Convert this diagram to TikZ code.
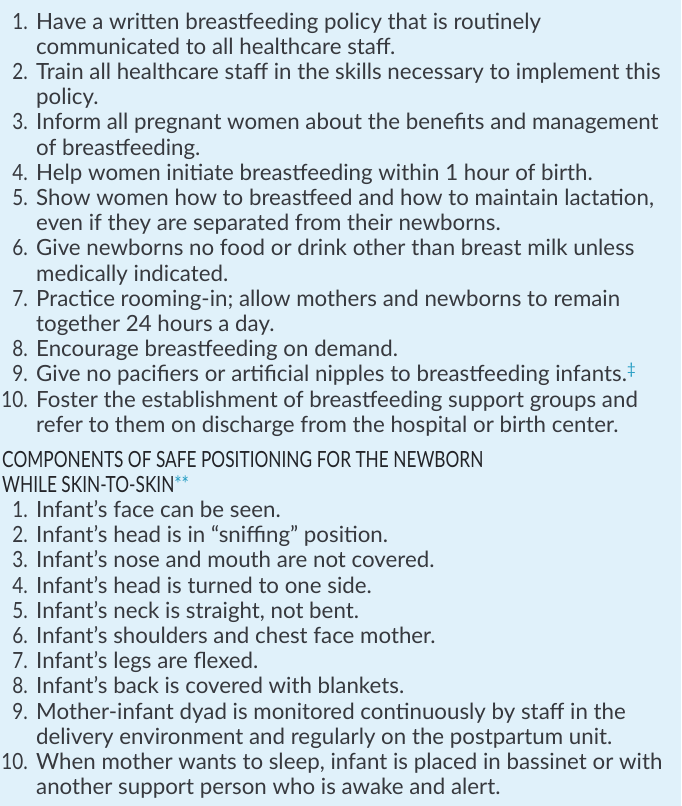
\documentclass[tikz,border=0pt]{standalone}
\usepackage{fontspec}
\setmainfont{Lato}
\newfontfamily\headfont[FakeStretch=0.775]{Lato}
\newfontfamily\numfont[FakeStretch=0.85]{Lato}
\usetikzlibrary{positioning}
\definecolor{boxbg}{RGB}{224,241,250}
\definecolor{ink}{RGB}{55,57,62}
\definecolor{headink}{RGB}{35,36,40}
\definecolor{markblue}{RGB}{38,158,196}
\newcommand{\itemlines}[1]{\begin{tabular}[t]{@{}l@{}}#1\end{tabular}}

\begin{document}
\begin{tikzpicture}[x=1pt, y=-1pt,
        every node/.style={inner sep=0pt, text=ink, font=\fontsize{22.3}{25.2}\selectfont},
        num/.style={anchor=base east, font=\fontsize{22.3}{25.2}\numfont},
        item/.style={anchor=base west}]
        \useasboundingbox (0,0) rectangle (681,806);
        \fill[boxbg] (0,0) rectangle (681,806);
        % ten steps
        \foreach \i/\n/\t in {
            0/1/{Have a written breastfeeding policy that is routinely\\communicated to all healthcare staff.},
            2/2/{Train all healthcare staff in the skills necessary to implement this\\policy.},
            4/3/{Inform all pregnant women about the benefits and management\\of breastfeeding.},
            6/4/{Help women initiate breastfeeding within 1 hour of birth.},
            7/5/{Show women how to breastfeed and how to maintain lactation,\\even if they are separated from their newborns.},
            9/6/{Give newborns no food or drink other than breast milk unless\\medically indicated.},
            11/7/{Practice rooming-in; allow mothers and newborns to remain\\together 24 hours a day.},
            13/8/{Encourage breastfeeding on demand.},
            14/9/{Give no pacifiers or artificial nipples to breastfeeding infants.\textsuperscript{\color{markblue}‡}},
            15/10/{Foster the establishment of breastfeeding support groups and\\refer to them on discharge from the hospital or birth center.}}
        {
            \node[num] (a\n) at (28, 29+\i*25.2) {\n.};
            \node[item] (s\n) at (36, 29+\i*25.2) {\itemlines{\t}};
        }
        \node[item, text=headink, font=\fontsize{22.3}{25.2}\headfont] (head) at (2, 467)
            {\itemlines{COMPONENTS OF SAFE POSITIONING FOR THE NEWBORN\\WHILE SKIN-TO-SKIN{\color{markblue}**}}};
        % safe positioning
        \foreach \i/\n/\t in {
            2/1/{Infant's face can be seen.},
            3/2/{Infant's head is in “sniffing” position.},
            4/3/{Infant's nose and mouth are not covered.},
            5/4/{Infant's head is turned to one side.},
            6/5/{Infant's neck is straight, not bent.},
            7/6/{Infant's shoulders and chest face mother.},
            8/7/{Infant's legs are flexed.},
            9/8/{Infant's back is covered with blankets.},
            10/9/{Mother-infant dyad is monitored continuously by staff in the\\delivery environment and regularly on the postpartum unit.},
            12/10/{When mother wants to sleep, infant is placed in bassinet or with\\another support person who is awake and alert.}}
        {
            \node[num] (b\n) at (28, 467+\i*25.2) {\n.};
            \node[item] (p\n) at (36, 467+\i*25.2) {\itemlines{\t}};
        }
    \end{tikzpicture}
\end{document}
